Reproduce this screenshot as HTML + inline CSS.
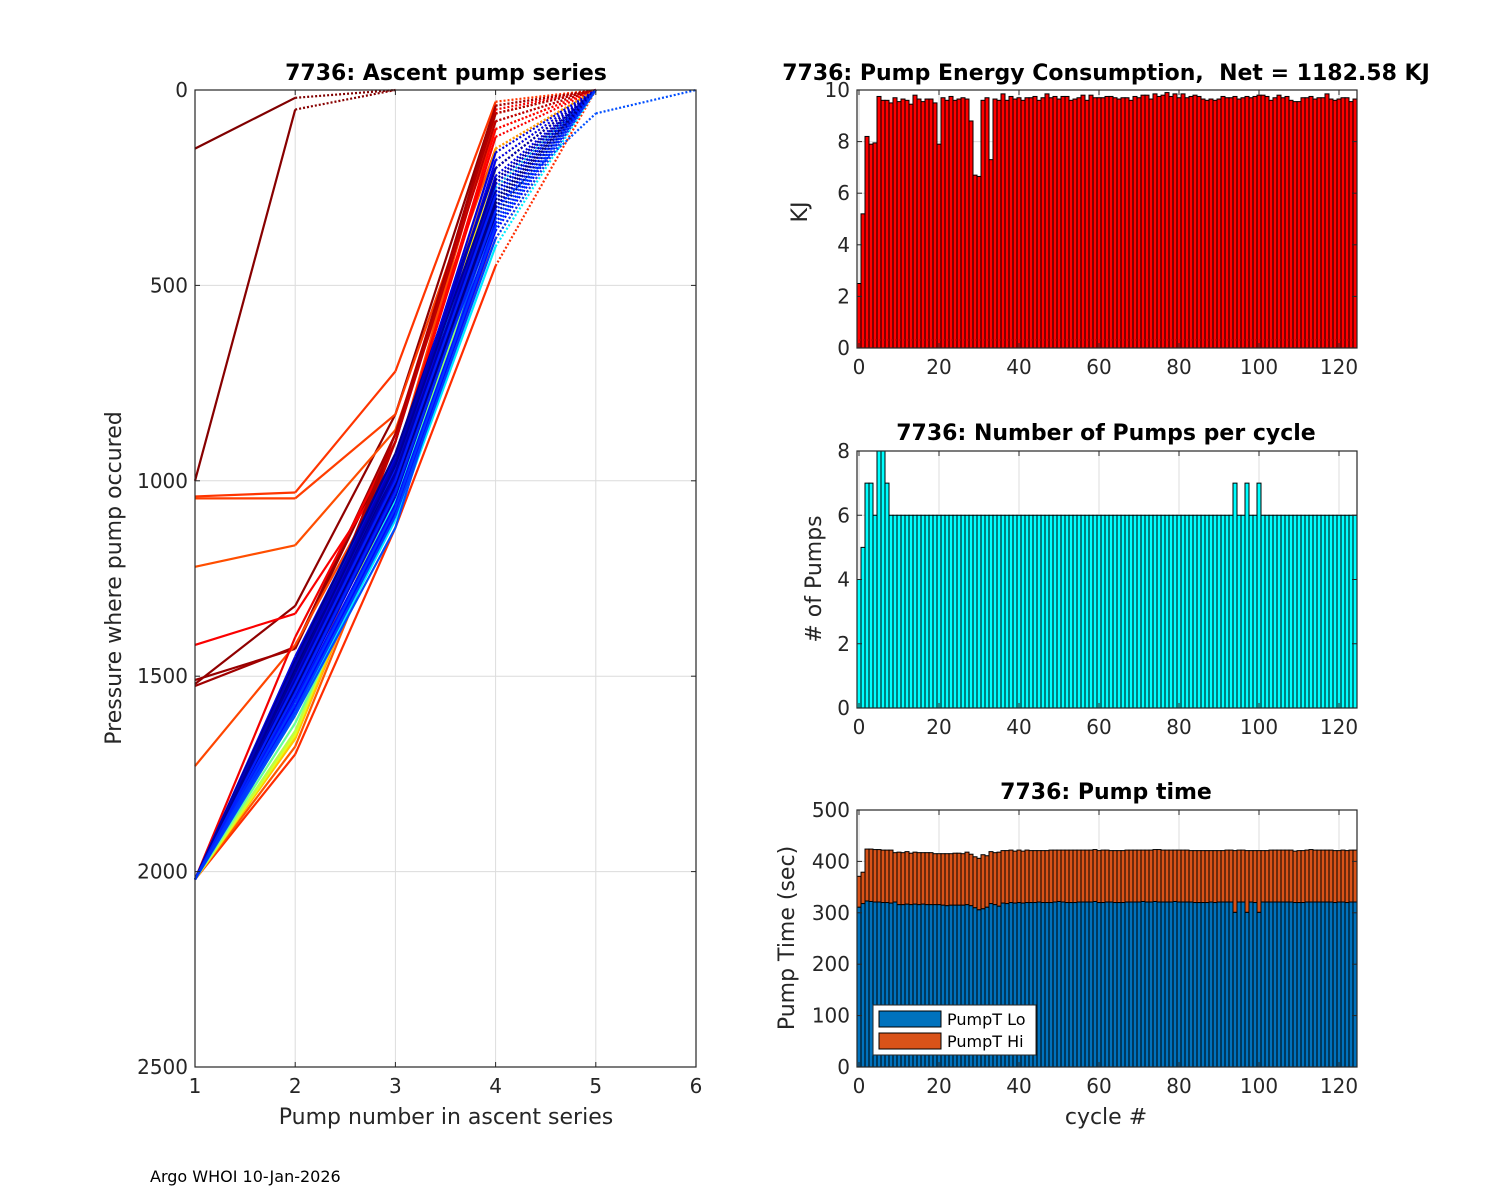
<!DOCTYPE html>
<html><head><meta charset="utf-8"><style>
html,body{margin:0;padding:0;background:#fff;}
svg{display:block;font-family:"DejaVu Sans","Liberation Sans",sans-serif;}
text{white-space:pre;}
</style></head><body>
<svg id="fig" width="1500" height="1200" viewBox="0 0 1500 1200" xmlns="http://www.w3.org/2000/svg">
<rect width="1500" height="1200" fill="#fff"/>
<g id="gLeft"></g>
<g id="gE"></g>
<g id="gN"></g>
<g id="gT"></g>
<text x="150" y="1182" font-size="16" fill="#000">Argo WHOI 10-Jan-2026</text>
</svg>
<script>
// ---- data ----
const profileCycles = [0,1,2,3,4,22,23,25,15,24,14,16,5,6,8,21,26,28,30,35,40,45,50,55,60,65,70,75,80,85,90,95,99,100,103,106,109,112,115,118,120,122,124,
110,111,113,114,116,117,119,121,123,107,108,104,105,101,102];
const profilePressures = [
[150,20,0],[1000,50,0],[1520,1320,830,40,0],[1510,1430,900,60,0],[1525,1425,880,80,0],
[1040,1030,720,30,0],[1045,1045,830,100,0],[1220,1165,870,150,0],[1420,1340,950,120,0],[1730,1420,950,60,0],
[2020,1400,900,50,0],[2020,1550,950,100,0],[2020,1500,900,40,0],[2020,1520,880,60,0],[2020,1560,900,80,0],
[2020,1700,1120,450,0],[2020,1680,1050,380,0],[2020,1650,1020,250,0],[2020,1600,980,200,0],[2020,1660,1040,150,0],
[2020,1660,1020,180,0],[2020,1650,1000,200,0],[2020,1650,1000,250,0],[2020,1640,1010,300,0],[2020,1600,1050,320,0],
[2020,1620,1080,350,0],[2020,1560,1000,300,0],[2020,1580,1050,350,0],[2020,1600,1100,400,0],[2020,1520,980,280,0],
[2020,1480,960,250,0],[2020,1500,980,300,0],[2020,1600,1120,300,60,0],[2020,1540,1000,330,0],[2020,1460,950,280,0],
[2020,1480,970,260,0],[2020,1500,1000,300,0],[2020,1450,940,240,0],[2020,1470,960,270,0],[2020,1490,990,300,0],
[2020,1510,1010,320,0],[2020,1460,930,200,0],[2020,1480,980,280,0],
[2020,1520,1000,180,0],[2020,1540,1020,220,0],[2020,1500,960,160,0],[2020,1530,990,240,0],[2020,1550,1040,300,0],
[2020,1470,950,200,0],[2020,1510,980,260,0],[2020,1490,960,230,0],[2020,1530,1010,290,0],[2020,1560,1060,340,0],
[2020,1580,1080,360,0],[2020,1545,1030,310,0],[2020,1520,1000,270,0],[2020,1590,1090,380,0],[2020,1570,1070,350,0]];
const leftXTicks = [1,2,3,4,5,6];
const leftYTicks = [0,500,1000,1500,2000,2500];

const energy = [2.5,5.2,8.2,7.9,7.95,9.75,9.6,9.6,9.5,9.7,
9.55,9.65,9.6,9.45,9.8,9.65,9.55,9.65,9.65,9.5,
7.9,9.7,9.6,9.75,9.6,9.65,9.7,9.65,8.8,6.7,
6.65,9.6,9.7,7.3,9.65,9.6,9.85,9.6,9.75,9.65,
9.7,9.6,9.7,9.7,9.75,9.6,9.7,9.85,9.7,9.75,
9.65,9.75,9.75,9.6,9.65,9.7,9.8,9.6,9.8,9.7,
9.7,9.7,9.75,9.75,9.7,9.65,9.7,9.7,9.6,9.75,
9.7,9.8,9.8,9.65,9.85,9.75,9.8,9.9,9.75,9.85,
9.7,9.85,9.7,9.75,9.8,9.75,9.65,9.6,9.65,9.6,
9.65,9.75,9.7,9.7,9.75,9.65,9.7,9.75,9.7,9.75,
9.8,9.8,9.75,9.6,9.7,9.8,9.7,9.75,9.6,9.55,
9.55,9.7,9.7,9.75,9.65,9.7,9.7,9.85,9.65,9.6,
9.65,9.7,9.7,9.55,9.65];
const pumps = [4,5,7,7,6,8,8,7,6,6, 6,6,6,6,6,6,6,6,6,6, 6,6,6,6,6,6,6,6,6,6,
6,6,6,6,6,6,6,6,6,6, 6,6,6,6,6,6,6,6,6,6, 6,6,6,6,6,6,6,6,6,6,
6,6,6,6,6,6,6,6,6,6, 6,6,6,6,6,6,6,6,6,6, 6,6,6,6,6,6,6,6,6,6,
6,6,6,6,7,6,6,7,6,6, 7,6,6,6,6,6,6,6,6,6, 6,6,6,6,6,6,6,6,6,6, 6,6,6,6,6];
const pumpLo = [311,318,323,322,321,321,320,320,319,321,
316,316,317,316,317,316,317,316,316,316,
316,315,314,315,315,315,315,316,314,310,
306,308,311,318,316,313,319,318,320,319,
320,319,320,320,320,321,320,320,320,321,
322,321,320,320,320,321,321,321,321,322,
320,320,321,321,320,320,320,321,321,321,
321,322,321,321,322,321,321,321,321,322,
321,321,321,321,320,320,320,320,321,320,
321,321,321,321,301,321,321,301,321,320,
301,321,321,321,321,321,321,321,321,320,
320,320,321,321,321,321,321,321,321,320,
321,321,320,321,321];
const pumpHi = [60,61,101,102,102,102,102,102,103,96,
102,101,102,100,101,101,100,101,101,99,
99,100,101,100,101,101,100,102,100,99,
100,105,100,101,101,105,102,103,102,101,
102,101,102,101,101,100,101,101,102,101,
100,101,102,102,102,101,101,101,101,101,
101,102,101,100,101,101,101,101,101,101,
101,100,101,101,101,102,101,101,101,100,
101,101,101,100,101,101,101,101,100,101,
100,100,101,101,120,101,101,120,100,101,
120,100,100,101,101,101,101,101,101,100,
101,101,101,102,101,101,101,101,101,101,
100,101,101,101,101];
const cycleTicks = [0,20,40,60,80,100,120];
const energyTicks = [0,2,4,6,8,10];
const pumpTicks = [0,2,4,6,8];
const timeTicks = [0,100,200,300,400,500];

const NS = "http://www.w3.org/2000/svg";
function mk(parent, tag, attrs, text){
  const e = document.createElementNS(NS, tag);
  for (const k in attrs) e.setAttribute(k, attrs[k]);
  if (text !== undefined) e.textContent = text;
  parent.appendChild(e);
  return e;
}
function jet(t){
  const c = v => Math.max(0, Math.min(1, v));
  const r = c(1.5 - Math.abs(4*t - 3)), g = c(1.5 - Math.abs(4*t - 2)), b = c(1.5 - Math.abs(4*t - 1));
  return `rgb(${Math.round(r*255)},${Math.round(g*255)},${Math.round(b*255)})`;
}

function axesFrame(g, L, T, R, B, xTicks, xs, yTicks, ys, xName, yName){
  const grid = mk(g, 'g', {});
  
  
  xTicks.forEach(v => { const x = xs(v); mk(grid, 'line', {x1:x, x2:x, y1:T, y2:B, stroke:'#dcdcdc', 'stroke-width':1}); });
  yTicks.forEach(v => { const y = ys(v); mk(grid, 'line', {x1:L, x2:R, y1:y, y2:y, stroke:'#dcdcdc', 'stroke-width':1}); });
}
function axesTicks(g, L, T, R, B, xTicks, xs, yTicks, ys, xName, yName){
  mk(g, 'rect', {x:L, y:T, width:R-L, height:B-T, fill:'none', stroke:'#262626', 'stroke-width':1.2});
  xTicks.forEach(v => {
    const x = xs(v);
    mk(g, 'line', {x1:x, x2:x, y1:B, y2:B-5, stroke:'#262626'});
    mk(g, 'line', {x1:x, x2:x, y1:T, y2:T+5, stroke:'#262626'});
    const t = mk(g, 'text', {x:x, y:B+26, 'text-anchor':'middle', 'font-size':20, fill:'#262626'}, String(v));
    
    
  });
  yTicks.forEach(v => {
    const y = ys(v);
    mk(g, 'line', {x1:L, x2:L+5, y1:y, y2:y, stroke:'#262626'});
    mk(g, 'line', {x1:R, x2:R-5, y1:y, y2:y, stroke:'#262626'});
    const t = mk(g, 'text', {x:L-7, y:y+7, 'text-anchor':'end', 'font-size':20, fill:'#262626'}, String(v));
    
    
  });
}
function title(g, x, y, s, name){
  const t = mk(g, 'text', {x:x, y:y, 'text-anchor':'middle', 'font-size':22, 'font-weight':'bold', fill:'#000'}, s);
  
  
}
function ylabel(g, x, y, s, name){
  const t = mk(g, 'text', {x:x, y:y, 'text-anchor':'middle', 'font-size':22, fill:'#262626', transform:`rotate(-90 ${x} ${y})`}, s);
  
  
}
function xlabel(g, x, y, s, name){
  const t = mk(g, 'text', {x:x, y:y, 'text-anchor':'middle', 'font-size':22, fill:'#262626'}, s);
  
  
}

// ---- left chart ----
(function(){
  const g = document.getElementById('gLeft');
  const L=195, R=696, T=90, B=1067;
  const xs = v => L + (v-1)/5*(R-L);
  const ys = v => T + v/2500*(B-T);
  axesFrame(g, L,T,R,B, leftXTicks, xs, leftYTicks, ys, 'pump-number', 'pressure');
  const lines = mk(g, 'g', {});
  
  
  profilePressures.forEach((p, i) => {
    const col = jet(1 - profileCycles[i]/124);
    const n = p.length;
    for (let k = 0; k < n-1; k++){
      const dotted = (k >= 3) || (k === n-2);
      const ln = mk(lines, 'line', {x1:xs(k+1), y1:ys(p[k]), x2:xs(k+2), y2:ys(p[k+1]), stroke:col, 'stroke-width':2.2,
        'stroke-dasharray': dotted ? '2 2' : 'none'});
      
      
    }
  });
  axesTicks(g, L,T,R,B, leftXTicks, xs, leftYTicks, ys, 'pump-number', 'pressure');
  title(g, 446, 80, '7736: Ascent pump series', 'ascent-title');
  xlabel(g, 446, 1124, 'Pump number in ascent series', 'x-axis-title');
  ylabel(g, 121, 578, 'Pressure where pump occured', 'y-axis-title');
})();

// ---- right charts ----
const RL=857, RR=1357;
const cx = v => RL + (v + 0.5)/125*(RR-RL);
function barChart(gid, T, B, ymax, yTicks, series, fills, name){
  const g = document.getElementById(gid);
  const ys = v => B - v/ymax*(B-T);
  axesFrame(g, RL,T,RR,B, cycleTicks, cx, yTicks, ys, 'cycle', name);
  const bars = mk(g, 'g', {});
  
  
  const w = cx(1) - cx(0);
  series[0].forEach((_, i) => {
    let base = 0;
    series.forEach((s, si) => {
      const v = s[i];
      const y1 = ys(base + v), y0 = ys(base);
      const r = mk(bars, 'rect', {x:cx(i)-w/2, y:y1, width:w, height:Math.max(0, y0-y1), fill:fills[si], stroke:'#000', 'stroke-width':1});
      
      
      base += v;
    });
  });
  axesTicks(g, RL,T,RR,B, cycleTicks, cx, yTicks, ys, 'cycle', name);
  return g;
}
(function(){
  const g = barChart('gE', 90, 348, 10, energyTicks, [energy], ['#ff0000'], 'energy');
  mk(g, 'line', {x1:RL+2, x2:RR-2, y1:340, y2:340, stroke:'#c00000', 'stroke-width':1, 'stroke-dasharray':'2 2'});
  title(g, 1106, 80, '7736: Pump Energy Consumption,  Net = 1182.58 KJ', 'energy-title');
  ylabel(g, 807, 212, 'KJ', 'energy-y-title');
})();
(function(){
  const g = barChart('gN', 451, 708, 8, pumpTicks, [pumps], ['#00ffff'], 'pumps');
  title(g, 1106, 440, '7736: Number of Pumps per cycle', 'pumps-title');
  ylabel(g, 821, 579, '# of Pumps', 'pumps-y-title');
})();
(function(){
  const g = barChart('gT', 810, 1067, 500, timeTicks, [pumpLo, pumpHi], ['#0072bd', '#d95319'], 'pump-time');
  title(g, 1106, 799, '7736: Pump time', 'pump-time-title');
  ylabel(g, 794, 938, 'Pump Time (sec)', 'pump-time-y-title');
  xlabel(g, 1106, 1124, 'cycle #', 'cycle-x-title');
  const lg = mk(g, 'g', {});
  
  
  mk(lg, 'rect', {x:873, y:1005, width:163, height:50, fill:'#fff', stroke:'#262626', 'stroke-width':1});
  mk(lg, 'rect', {x:879, y:1011, width:62, height:16, fill:'#0072bd', stroke:'#000'});
  mk(lg, 'rect', {x:879, y:1033, width:62, height:16, fill:'#d95319', stroke:'#000'});
  const t1 = mk(lg, 'text', {x:947, y:1025, 'font-size':16, fill:'#000'}, 'PumpT Lo');
  
  
  const t2 = mk(lg, 'text', {x:947, y:1047, 'font-size':16, fill:'#000'}, 'PumpT Hi');
  
  
})();
</script>
</body></html>
